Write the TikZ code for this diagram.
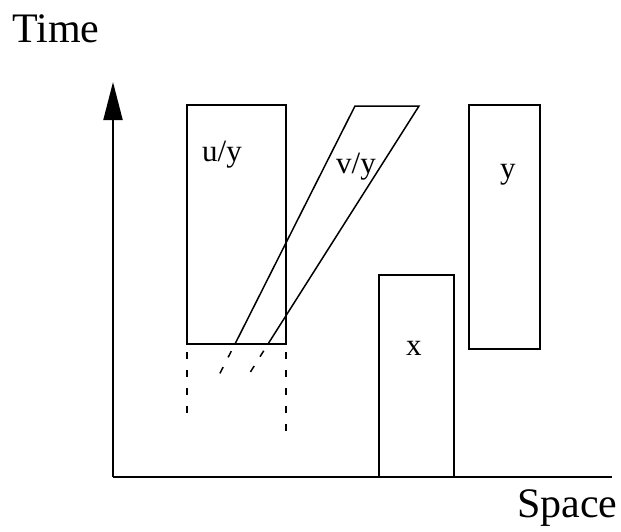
\documentclass[tikz,border=0pt]{standalone}
\usepackage{fontspec}
\setmainfont{Liberation Serif}
\usetikzlibrary{arrows.meta}
\tikzset{
  bx/.style={line width=1.5pt},
  ext/.style={line width=1.5pt,dash pattern=on 7pt off 11pt,dash phase=10pt},
  lab/.style={font=\fontsize{31}{36}\selectfont,inner sep=0pt,anchor=base west},
  axlab/.style={font=\fontsize{42}{48}\selectfont,inner sep=0pt,anchor=base west},
  axis/.style={line width=2pt}
}

\begin{document}
\begin{tikzpicture}[x=1pt,y=-1pt]
      \useasboundingbox (0,0) rectangle (621,531);
      % axes
      \coordinate (o) at (113,477); \coordinate (tt) at (113,82); \coordinate (ss) at (612,477);
      \draw[axis,-{Triangle[length=38pt,width=19pt]}] (o) -- (tt);
      \draw[axis] (o) -- (ss);
      \node[axlab] (time) at (12,42) {Time}; \node[axlab] (space) at (517,517) {Space};
      % u/y and its past
      \draw[bx] (187,105) rectangle (286,344);
      \draw[ext] (187,344) -- (187,416); \draw[ext] (286,344) -- (286,434);
      \node[lab] (uy) at (202,161) {u/y};
      % v/y, slanted
      \draw[bx] (235,344) -- (355,106) -- (419,106) -- (268,344);
      \draw[ext] (235,344) -- (217,379); \draw[ext] (268,344) -- (246,379);
      \node[lab] (vy) at (336,173) {v/y};
      % x and y
      \draw[bx] (379,477) -- (379,275) -- (454,275) -- (454,477);
      \node[lab] (xx) at (406,355) {x};
      \draw[bx] (469,105) rectangle (540,349);
      \node[lab] (yy) at (500,178) {y};
    \end{tikzpicture}
\end{document}
